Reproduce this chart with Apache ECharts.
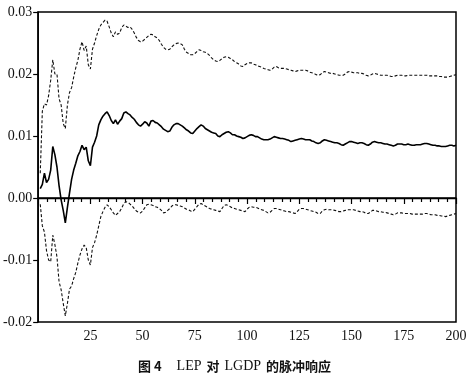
<!DOCTYPE html>
<html>
<head>
<meta charset="utf-8">
<script src="https://cdn.jsdelivr.net/npm/echarts@6/dist/echarts.min.js"></script>
<style>
html,body{margin:0;padding:0;background:#fff;}
#c{width:474px;height:380px;}
</style>
</head>
<body>
<div id="c"></div>
<script>
// Impulse response of LEP to LGDP, periods 1..200
const response = [
0.0015,0.0022,0.0040,0.0025,0.0030,0.0045,0.0083,0.0070,0.0050,0.0020,
-0.0003,-0.0020,-0.0040,-0.0015,0.0008,0.0030,0.0045,0.0056,0.0068,0.0075,
0.0085,0.0078,0.0082,0.0060,0.0052,0.0082,0.0090,0.0100,0.0118,0.0126,
0.0132,0.0136,0.0139,0.0133,0.0125,0.0120,0.0126,0.0119,0.0124,0.0128,
0.0137,0.0139,0.0136,0.0134,0.0130,0.0127,0.0122,0.0118,0.0116,0.0119,
0.0123,0.0121,0.0116,0.0124,0.0125,0.0122,0.0121,0.0118,0.0115,0.0111,
0.0109,0.0107,0.0108,0.0114,0.0118,0.0120,0.0120,0.0118,0.0116,0.0113,
0.0110,0.0108,0.0105,0.0104,0.0108,0.0112,0.0115,0.0118,0.0116,0.0112,
0.0110,0.0108,0.0106,0.0105,0.0104,0.0100,0.0099,0.0102,0.0104,0.0106,
0.0107,0.0105,0.0102,0.0102,0.0100,0.0099,0.0098,0.0096,0.0097,0.0099,
0.0101,0.0102,0.0101,0.0099,0.0099,0.0097,0.0095,0.0094,0.0094,0.0094,
0.0095,0.0097,0.0099,0.0098,0.0097,0.0096,0.0096,0.0095,0.0094,0.0093,
0.0091,0.0092,0.0093,0.0094,0.0095,0.0096,0.0095,0.0094,0.0094,0.0094,
0.0092,0.0091,0.0089,0.0088,0.0089,0.0092,0.0094,0.0093,0.0092,0.0091,
0.0090,0.0089,0.0089,0.0088,0.0086,0.0085,0.0087,0.0089,0.0091,0.0091,
0.0090,0.0089,0.0088,0.0089,0.0089,0.0088,0.0086,0.0085,0.0087,0.0090,
0.0091,0.0090,0.0089,0.0089,0.0088,0.0087,0.0087,0.0086,0.0085,0.0084,
0.0085,0.0087,0.0087,0.0087,0.0086,0.0086,0.0087,0.0086,0.0085,0.0085,
0.0086,0.0086,0.0086,0.0087,0.0088,0.0088,0.0087,0.0086,0.0085,0.0085,
0.0084,0.0084,0.0083,0.0083,0.0083,0.0084,0.0085,0.0085,0.0084,0.0085
];
// Upper band (+2 S.E.)
const upperBand = [
0.0040,0.0140,0.0152,0.0150,0.0165,0.0190,0.0223,0.0200,0.0200,0.0160,
0.0150,0.0120,0.0112,0.0150,0.0170,0.0178,0.0195,0.0210,0.0222,0.0240,
0.0252,0.0238,0.0245,0.0215,0.0208,0.0240,0.0250,0.0262,0.0272,0.0279,
0.0283,0.0287,0.0285,0.0276,0.0266,0.0260,0.0268,0.0264,0.0266,0.0275,
0.0279,0.0277,0.0275,0.0276,0.0272,0.0266,0.0259,0.0254,0.0252,0.0253,
0.0256,0.0259,0.0262,0.0264,0.0263,0.0260,0.0258,0.0254,0.0248,0.0243,
0.0240,0.0239,0.0240,0.0244,0.0247,0.0249,0.0250,0.0249,0.0247,0.0240,
0.0235,0.0233,0.0231,0.0231,0.0233,0.0236,0.0239,0.0238,0.0236,0.0235,
0.0233,0.0230,0.0226,0.0223,0.0221,0.0220,0.0222,0.0225,0.0227,0.0228,
0.0227,0.0225,0.0223,0.0220,0.0218,0.0216,0.0213,0.0212,0.0215,0.0217,
0.0218,0.0218,0.0216,0.0215,0.0213,0.0212,0.0211,0.0209,0.0208,0.0207,
0.0206,0.0208,0.0211,0.0212,0.0210,0.0209,0.0209,0.0209,0.0208,0.0207,
0.0206,0.0205,0.0204,0.0205,0.0206,0.0206,0.0206,0.0206,0.0205,0.0203,
0.0202,0.0201,0.0199,0.0198,0.0199,0.0202,0.0204,0.0203,0.0202,0.0201,
0.0201,0.0200,0.0199,0.0198,0.0198,0.0198,0.0200,0.0203,0.0204,0.0203,
0.0202,0.0202,0.0202,0.0201,0.0201,0.0200,0.0198,0.0197,0.0198,0.0200,
0.0201,0.0200,0.0199,0.0198,0.0198,0.0198,0.0198,0.0197,0.0196,0.0196,
0.0197,0.0198,0.0198,0.0198,0.0197,0.0197,0.0198,0.0198,0.0198,0.0198,
0.0198,0.0198,0.0198,0.0198,0.0198,0.0198,0.0197,0.0197,0.0197,0.0197,
0.0197,0.0196,0.0196,0.0195,0.0195,0.0195,0.0196,0.0197,0.0198,0.0199
];
// Lower band (-2 S.E.)
const lowerBand = [
-0.0010,-0.0045,-0.0055,-0.0085,-0.0100,-0.0103,-0.0060,-0.0075,-0.0095,-0.0135,
-0.0148,-0.0170,-0.0190,-0.0170,-0.0147,-0.0142,-0.0130,-0.0120,-0.0105,-0.0092,
-0.0082,-0.0076,-0.0080,-0.0100,-0.0108,-0.0080,-0.0072,-0.0060,-0.0045,-0.0030,
-0.0022,-0.0015,-0.0011,-0.0014,-0.0019,-0.0024,-0.0028,-0.0025,-0.0022,-0.0016,
-0.0009,-0.0006,-0.0007,-0.0010,-0.0013,-0.0017,-0.0021,-0.0023,-0.0024,-0.0021,
-0.0016,-0.0011,-0.0010,-0.0011,-0.0012,-0.0014,-0.0015,-0.0017,-0.0020,-0.0024,
-0.0023,-0.0020,-0.0017,-0.0013,-0.0011,-0.0011,-0.0012,-0.0013,-0.0014,-0.0016,
-0.0018,-0.0019,-0.0021,-0.0022,-0.0018,-0.0014,-0.0010,-0.0009,-0.0011,-0.0013,
-0.0015,-0.0017,-0.0018,-0.0019,-0.0020,-0.0021,-0.0022,-0.0017,-0.0012,-0.0011,
-0.0012,-0.0014,-0.0016,-0.0017,-0.0018,-0.0019,-0.0020,-0.0021,-0.0022,-0.0018,
-0.0015,-0.0014,-0.0015,-0.0015,-0.0016,-0.0018,-0.0019,-0.0020,-0.0022,-0.0024,
-0.0023,-0.0020,-0.0017,-0.0017,-0.0018,-0.0019,-0.0020,-0.0021,-0.0022,-0.0022,
-0.0023,-0.0024,-0.0025,-0.0022,-0.0018,-0.0017,-0.0017,-0.0018,-0.0019,-0.0020,
-0.0021,-0.0022,-0.0023,-0.0025,-0.0025,-0.0021,-0.0019,-0.0018,-0.0019,-0.0019,
-0.0019,-0.0020,-0.0021,-0.0022,-0.0022,-0.0021,-0.0020,-0.0019,-0.0019,-0.0019,
-0.0019,-0.0020,-0.0021,-0.0022,-0.0022,-0.0023,-0.0025,-0.0025,-0.0023,-0.0020,
-0.0020,-0.0021,-0.0022,-0.0022,-0.0023,-0.0023,-0.0024,-0.0025,-0.0026,-0.0027,
-0.0026,-0.0024,-0.0024,-0.0024,-0.0025,-0.0025,-0.0025,-0.0025,-0.0026,-0.0026,
-0.0026,-0.0026,-0.0026,-0.0026,-0.0025,-0.0025,-0.0026,-0.0027,-0.0027,-0.0027,
-0.0028,-0.0028,-0.0029,-0.0029,-0.0030,-0.0029,-0.0028,-0.0027,-0.0026,-0.0025
];
const xTickLabels = ['25','50','75','100','125','150','175','200'];
const yTickLabels = ['-0.02','-0.01','0.00','0.01','0.02','0.03'];
const captionParts = ['图 4', 'LEP', '对', 'LGDP', '的脉冲响应'];

const periods = response.map((_, i) => i + 1);
const pair = arr => arr.map((v, i) => [periods[i], v]);

const chart = echarts.init(document.getElementById('c'), null, {renderer: 'canvas'});
const serif = '"Liberation Serif", "DejaVu Serif", serif';
const cjk = '"Noto Sans CJK SC", sans-serif';

chart.setOption({
  animation: false,
  backgroundColor: '#fff',
  title: {
    text: '{c|' + captionParts[0] + '}   {l|' + captionParts[1] + '} {c|' + captionParts[2] + '} {l|' + captionParts[3] + '} {c|' + captionParts[4] + '}',
    left: 133, top: 352,
    textStyle: {
      fontWeight: 'normal',
      rich: {
        c: {fontFamily: cjk, fontWeight: 'bold', fontSize: 13, color: '#111'},
        l: {fontFamily: serif, fontWeight: 'normal', fontSize: 14, color: '#111'}
      }
    }
  },
  grid: {left: 37, right: 18, top: 12, bottom: 58, show: true, borderColor: '#000', borderWidth: 1.5, backgroundColor: 'transparent'},
  xAxis: {
    type: 'value', min: 0, max: 200, interval: 25,
    axisLine: {show: true, lineStyle: {color: '#000', width: 1.5}},
    axisTick: {show: true, length: 6, lineStyle: {color: '#000', width: 1.2}},
    minorTick: {show: true, splitNumber: 6, length: 4, lineStyle: {color: '#000', width: 1.2}},
    splitLine: {show: false},
    axisLabel: {
      color: '#111', fontFamily: serif, fontSize: 14, margin: 7,
      formatter: v => { const i = xTickLabels.indexOf(String(v)); return i >= 0 ? xTickLabels[i] : ''; }
    }
  },
  yAxis: {
    type: 'value', min: -0.02, max: 0.03, interval: 0.01,
    axisLine: {show: true, lineStyle: {color: '#000', width: 1.5}},
    axisTick: {show: true, length: 5, lineStyle: {color: '#000', width: 1.2}},
    splitLine: {show: false},
    axisLabel: {
      color: '#111', fontFamily: serif, fontSize: 14, margin: 6,
      formatter: v => yTickLabels[Math.round((v + 0.02) / 0.01)]
    }
  },
  series: [
    {
      type: 'line', data: pair(upperBand), showSymbol: false, symbol: 'none',
      lineStyle: {color: '#111', width: 1.1, type: [3, 2]}
    },
    {
      type: 'line', data: pair(lowerBand), showSymbol: false, symbol: 'none',
      lineStyle: {color: '#111', width: 1.1, type: [3, 2]}
    },
    {
      type: 'line', data: pair(response), showSymbol: false, symbol: 'none',
      lineStyle: {color: '#000', width: 1.6},
      markLine: {
        silent: true, symbol: 'none', label: {show: false},
        lineStyle: {color: '#000', width: 1.4, type: 'solid'},
        data: [{yAxis: 0}]
      }
    }
  ]
});
</script>
</body>
</html>
